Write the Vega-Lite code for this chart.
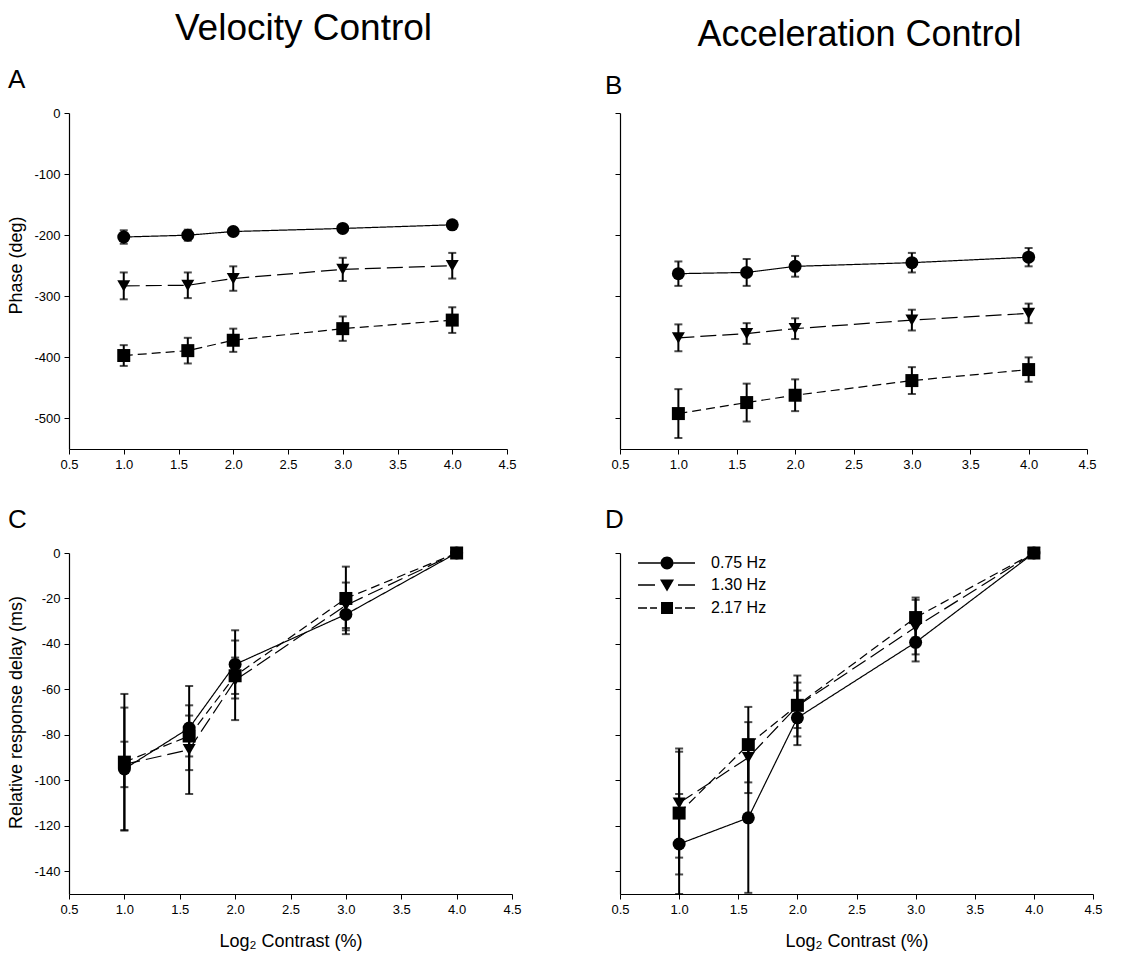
{
  "$schema": "https://vega.github.io/schema/vega-lite/v6.json",
  "padding": {"left": 7, "top": 10, "right": 5, "bottom": 5},
  "background": "white",
  "datasets": {
    "pts": [
      {"panel": "A", "freq": "0.75 Hz", "x": 1.0, "y": -203, "err": 11},
      {"panel": "A", "freq": "0.75 Hz", "x": 1.585, "y": -200, "err": 9},
      {"panel": "A", "freq": "0.75 Hz", "x": 2.0, "y": -194, "err": 6},
      {"panel": "A", "freq": "0.75 Hz", "x": 3.0, "y": -189, "err": 6},
      {"panel": "A", "freq": "0.75 Hz", "x": 4.0, "y": -183, "err": 5},
      {"panel": "A", "freq": "1.30 Hz", "x": 1.0, "y": -283, "err": 22},
      {"panel": "A", "freq": "1.30 Hz", "x": 1.585, "y": -282, "err": 21},
      {"panel": "A", "freq": "1.30 Hz", "x": 2.0, "y": -271, "err": 20},
      {"panel": "A", "freq": "1.30 Hz", "x": 3.0, "y": -256, "err": 19},
      {"panel": "A", "freq": "1.30 Hz", "x": 4.0, "y": -250, "err": 21},
      {"panel": "A", "freq": "2.17 Hz", "x": 1.0, "y": -397, "err": 17},
      {"panel": "A", "freq": "2.17 Hz", "x": 1.585, "y": -389, "err": 21},
      {"panel": "A", "freq": "2.17 Hz", "x": 2.0, "y": -372, "err": 19},
      {"panel": "A", "freq": "2.17 Hz", "x": 3.0, "y": -353, "err": 20},
      {"panel": "A", "freq": "2.17 Hz", "x": 4.0, "y": -339, "err": 21},
      {"panel": "B", "freq": "0.75 Hz", "x": 1.0, "y": -263, "err": 20},
      {"panel": "B", "freq": "0.75 Hz", "x": 1.585, "y": -261, "err": 22},
      {"panel": "B", "freq": "0.75 Hz", "x": 2.0, "y": -251, "err": 17},
      {"panel": "B", "freq": "0.75 Hz", "x": 3.0, "y": -245, "err": 16},
      {"panel": "B", "freq": "0.75 Hz", "x": 4.0, "y": -236, "err": 15},
      {"panel": "B", "freq": "1.30 Hz", "x": 1.0, "y": -368, "err": 22},
      {"panel": "B", "freq": "1.30 Hz", "x": 1.585, "y": -361, "err": 17},
      {"panel": "B", "freq": "1.30 Hz", "x": 2.0, "y": -353, "err": 17},
      {"panel": "B", "freq": "1.30 Hz", "x": 3.0, "y": -339, "err": 17},
      {"panel": "B", "freq": "1.30 Hz", "x": 4.0, "y": -328, "err": 16},
      {"panel": "B", "freq": "2.17 Hz", "x": 1.0, "y": -492, "err": 40},
      {"panel": "B", "freq": "2.17 Hz", "x": 1.585, "y": -474, "err": 31},
      {"panel": "B", "freq": "2.17 Hz", "x": 2.0, "y": -462, "err": 26},
      {"panel": "B", "freq": "2.17 Hz", "x": 3.0, "y": -438, "err": 22},
      {"panel": "B", "freq": "2.17 Hz", "x": 4.0, "y": -420, "err": 20},
      {"panel": "C", "freq": "0.75 Hz", "x": 1.0, "y": -95, "err": 27},
      {"panel": "C", "freq": "0.75 Hz", "x": 1.585, "y": -77, "err": 18.5},
      {"panel": "C", "freq": "0.75 Hz", "x": 2.0, "y": -49, "err": 15},
      {"panel": "C", "freq": "0.75 Hz", "x": 3.0, "y": -27, "err": 8.7},
      {"panel": "C", "freq": "0.75 Hz", "x": 4.0, "y": 0, "err": 0},
      {"panel": "C", "freq": "1.30 Hz", "x": 1.0, "y": -93, "err": 10},
      {"panel": "C", "freq": "1.30 Hz", "x": 1.585, "y": -86.5, "err": 19.5},
      {"panel": "C", "freq": "1.30 Hz", "x": 2.0, "y": -56, "err": 17.5},
      {"panel": "C", "freq": "1.30 Hz", "x": 3.0, "y": -23, "err": 10},
      {"panel": "C", "freq": "1.30 Hz", "x": 4.0, "y": 0, "err": 0},
      {"panel": "C", "freq": "2.17 Hz", "x": 1.0, "y": -92, "err": 30},
      {"panel": "C", "freq": "2.17 Hz", "x": 1.585, "y": -80.5, "err": 9},
      {"panel": "C", "freq": "2.17 Hz", "x": 2.0, "y": -54, "err": 8},
      {"panel": "C", "freq": "2.17 Hz", "x": 3.0, "y": -20, "err": 14},
      {"panel": "C", "freq": "2.17 Hz", "x": 4.0, "y": 0, "err": 0},
      {"panel": "D", "freq": "0.75 Hz", "x": 1.0, "y": -128, "err": 22},
      {"panel": "D", "freq": "0.75 Hz", "x": 1.585, "y": -116.5, "err": 33},
      {"panel": "D", "freq": "0.75 Hz", "x": 2.0, "y": -72.5, "err": 12},
      {"panel": "D", "freq": "0.75 Hz", "x": 3.0, "y": -39.3, "err": 8.4},
      {"panel": "D", "freq": "0.75 Hz", "x": 4.0, "y": 0, "err": 0},
      {"panel": "D", "freq": "1.30 Hz", "x": 1.0, "y": -110, "err": 24},
      {"panel": "D", "freq": "1.30 Hz", "x": 1.585, "y": -90, "err": 15.6},
      {"panel": "D", "freq": "1.30 Hz", "x": 2.0, "y": -67.3, "err": 13.4},
      {"panel": "D", "freq": "1.30 Hz", "x": 3.0, "y": -32.6, "err": 12},
      {"panel": "D", "freq": "1.30 Hz", "x": 4.0, "y": 0, "err": 0},
      {"panel": "D", "freq": "2.17 Hz", "x": 1.0, "y": -114.4, "err": 27},
      {"panel": "D", "freq": "2.17 Hz", "x": 1.585, "y": -84.3, "err": 16.6},
      {"panel": "D", "freq": "2.17 Hz", "x": 2.0, "y": -67, "err": 10},
      {"panel": "D", "freq": "2.17 Hz", "x": 3.0, "y": -28.4, "err": 8.8},
      {"panel": "D", "freq": "2.17 Hz", "x": 4.0, "y": 0, "err": 0}
    ]
  },
  "config": {
    "locale": {"number": {"decimal": ".", "thousands": ",", "grouping": [3], "currency": ["$", ""], "minus": "-"}},
    "view": {"stroke": null},
    "font": "Liberation Sans",
    "title": {"font": "Liberation Sans", "fontWeight": "normal", "color": "black"},
    "axis": {
      "domainColor": "black", "domainWidth": 1.2, "tickColor": "black", "tickSize": 5, "tickWidth": 1,
      "labelFont": "Liberation Sans", "labelFontSize": 13, "labelColor": "black",
      "titleFont": "Liberation Sans", "titleFontSize": 18, "titleFontWeight": "normal", "titleColor": "black",
      "grid": false, "labelPadding": 4
    },
    "legend": {"labelFont": "Liberation Sans", "labelFontSize": 16, "labelColor": "black"}
  },
  "resolve": {
    "scale": {"strokeDash": "independent", "shape": "independent"},
    "legend": {"strokeDash": "independent", "shape": "independent"}
  },
  "spacing": 82,
  "hconcat": [
    {
      "title": {"text": "Velocity Control", "fontSize": 37, "anchor": "middle", "dx": 39, "offset": 19},
      "spacing": 35,
      "resolve": {
        "scale": {"strokeDash": "independent", "shape": "independent"},
        "legend": {"strokeDash": "independent", "shape": "independent"}
      },
      "vconcat": [
        {
          "title": {"text": "A", "fontSize": 26, "anchor": "start", "frame": "bounds", "offset": 14},
          "width": 438, "height": 336,
          "data": {"name": "pts"},
          "transform": [{"filter": "datum.panel === 'A'"}],
          "encoding": {
            "x": {"field": "x", "type": "quantitative", "scale": {"domain": [0.5, 4.5], "nice": false, "zero": false},
                  "axis": {"values": [0.5, 1, 1.5, 2, 2.5, 3, 3.5, 4, 4.5], "format": ".1f", "title": null, "labelFlush": false, "labelOverlap": false}},
            "y": {"field": "y", "type": "quantitative", "scale": {"domain": [-550, 0], "nice": false, "zero": false},
                  "axis": {"values": [0, -100, -200, -300, -400, -500], "title": "Phase (deg)", "titlePadding": 8, "titleY": 152}}
          },
          "layer": [
            {"mark": {"type": "errorbar", "ticks": true, "size": 8, "thickness": 2, "color": "black"},
             "encoding": {"yError": {"field": "err"}}},
            {"mark": {"type": "line", "color": "black", "strokeWidth": 1.2},
             "encoding": {"strokeDash": {"field": "freq", "type": "nominal", "scale": {"domain": ["0.75 Hz", "1.30 Hz", "2.17 Hz"], "range": [[1, 0], [16, 6], [9, 5]]}, "legend": null}}},
            {"mark": {"type": "point", "filled": true, "color": "black", "opacity": 1, "size": 169},
             "encoding": {
               "shape": {"field": "freq", "type": "nominal", "scale": {"domain": ["0.75 Hz", "2.17 Hz", "1.30 Hz"], "range": ["circle", "square", "triangle-down"]}, "legend": null}}}
          ]
        },
        {
          "title": {"text": "C", "fontSize": 26, "anchor": "start", "frame": "bounds", "offset": 14},
          "width": 443, "height": 341,
          "data": {"name": "pts"},
          "transform": [{"filter": "datum.panel === 'C'"}],
          "encoding": {
            "x": {"field": "x", "type": "quantitative", "scale": {"domain": [0.5, 4.5], "nice": false, "zero": false},
                  "axis": {"values": [0.5, 1, 1.5, 2, 2.5, 3, 3.5, 4, 4.5], "format": ".1f", "title": "Log₂ Contrast (%)", "titlePadding": 16, "labelFlush": false, "labelOverlap": false}},
            "y": {"field": "y", "type": "quantitative", "scale": {"domain": [-150, 0], "nice": false, "zero": false},
                  "axis": {"values": [0, -20, -40, -60, -80, -100, -120, -140], "title": "Relative response delay (ms)", "titlePadding": 8, "titleY": 159}}
          },
          "layer": [
            {"mark": {"type": "errorbar", "ticks": true, "size": 8, "thickness": 2, "color": "black", "clip": true},
             "encoding": {"yError": {"field": "err"}}},
            {"mark": {"type": "line", "color": "black", "strokeWidth": 1.2},
             "encoding": {"strokeDash": {"field": "freq", "type": "nominal", "scale": {"domain": ["0.75 Hz", "1.30 Hz", "2.17 Hz"], "range": [[1, 0], [16, 6], [9, 5]]}, "legend": null}}},
            {"mark": {"type": "point", "filled": true, "color": "black", "opacity": 1, "size": 169},
             "encoding": {
               "shape": {"field": "freq", "type": "nominal", "scale": {"domain": ["0.75 Hz", "2.17 Hz", "1.30 Hz"], "range": ["circle", "square", "triangle-down"]}, "legend": null}}}
          ]
        }
      ]
    },
    {
      "title": {"text": "Acceleration Control", "fontSize": 36, "anchor": "middle", "dx": 6, "offset": 19},
      "spacing": 35,
      "resolve": {
        "scale": {"strokeDash": "independent", "shape": "independent"},
        "legend": {"strokeDash": "independent", "shape": "independent"}
      },
      "vconcat": [
        {
          "title": {"text": "B", "fontSize": 26, "anchor": "start", "frame": "bounds", "offset": 14, "dx": -6},
          "width": 467, "height": 336,
          "data": {"name": "pts"},
          "transform": [{"filter": "datum.panel === 'B'"}],
          "encoding": {
            "x": {"field": "x", "type": "quantitative", "scale": {"domain": [0.5, 4.5], "nice": false, "zero": false},
                  "axis": {"values": [0.5, 1, 1.5, 2, 2.5, 3, 3.5, 4, 4.5], "format": ".1f", "title": null, "labelFlush": false, "labelOverlap": false}},
            "y": {"field": "y", "type": "quantitative", "scale": {"domain": [-550, 0], "nice": false, "zero": false},
                  "axis": {"values": [0, -100, -200, -300, -400, -500], "title": null, "labels": false}}
          },
          "layer": [
            {"mark": {"type": "errorbar", "ticks": true, "size": 8, "thickness": 2, "color": "black"},
             "encoding": {"yError": {"field": "err"}}},
            {"mark": {"type": "line", "color": "black", "strokeWidth": 1.2},
             "encoding": {"strokeDash": {"field": "freq", "type": "nominal", "scale": {"domain": ["0.75 Hz", "1.30 Hz", "2.17 Hz"], "range": [[1, 0], [16, 6], [9, 5]]}, "legend": null}}},
            {"mark": {"type": "point", "filled": true, "color": "black", "opacity": 1, "size": 169},
             "encoding": {
               "shape": {"field": "freq", "type": "nominal", "scale": {"domain": ["0.75 Hz", "2.17 Hz", "1.30 Hz"], "range": ["circle", "square", "triangle-down"]}, "legend": null}}}
          ]
        },
        {
          "title": {"text": "D", "fontSize": 26, "anchor": "start", "frame": "bounds", "offset": 14, "dx": -6},
          "width": 473, "height": 341,
          "data": {"name": "pts"},
          "transform": [{"filter": "datum.panel === 'D'"}],
          "resolve": {"scale": {"shape": "independent"}, "legend": {"shape": "independent"}},
          "encoding": {
            "x": {"field": "x", "type": "quantitative", "scale": {"domain": [0.5, 4.5], "nice": false, "zero": false},
                  "axis": {"values": [0.5, 1, 1.5, 2, 2.5, 3, 3.5, 4, 4.5], "format": ".1f", "title": "Log₂ Contrast (%)", "titlePadding": 16, "labelFlush": false, "labelOverlap": false}},
            "y": {"field": "y", "type": "quantitative", "scale": {"domain": [-150, 0], "nice": false, "zero": false},
                  "axis": {"values": [0, -20, -40, -60, -80, -100, -120, -140], "title": null, "labels": false}}
          },
          "layer": [
            {"mark": {"type": "errorbar", "ticks": true, "size": 8, "thickness": 2, "color": "black", "clip": true},
             "encoding": {"yError": {"field": "err"}}},
            {"mark": {"type": "line", "color": "black", "strokeWidth": 1.2},
             "encoding": {"strokeDash": {"field": "freq", "type": "nominal", "scale": {"domain": ["2.17 Hz", "1.30 Hz", "0.75 Hz"], "range": [[9, 5], [16, 6], [1, 0]]}, "legend": null}}},
            {"mark": {"type": "point", "filled": true, "color": "black", "opacity": 1, "size": 169},
             "encoding": {
               "shape": {"field": "freq", "type": "nominal", "scale": {"domain": ["0.75 Hz", "2.17 Hz", "1.30 Hz"], "range": ["circle", "square", "triangle-down"]}, "legend": null}}},
            {"mark": {"type": "point", "filled": true, "fill": "black", "stroke": "black", "strokeWidth": 1.2, "opacity": 0},
             "encoding": {
               "shape": {"field": "freq", "type": "nominal",
                 "scale": {"domain": ["0.75 Hz", "1.30 Hz", "2.17 Hz"],
                   "range": [
                     "M-1.16,-0.11H2.59V0.11H-1.16Z M4.75,-0.11H8.34V0.11H4.75Z M4.75,0A1.08,1.08,0,1,1,2.59,0A1.08,1.08,0,1,1,4.75,0Z",
                     "M-1.16,-0.11H1.67V0.11H-1.16Z M5.5,-0.11H8.34V0.11H5.5Z M2.5,-0.9L4.84,-0.9L3.67,1.1Z",
                     "M-1.16,-0.11H0.34V0.11H-1.16Z M0.84,-0.11H2V0.11H0.84Z M5,-0.11H6.17V0.11H5Z M6.67,-0.11H8.34V0.11H6.67Z M2.67,-1H4.67V1H2.67Z"
                   ]},
                 "legend": {
                   "title": null, "orient": "none", "legendX": 17, "legendY": 2, "padding": 0,
                   "symbolSize": 144, "symbolStrokeWidth": 1.2, "symbolOpacity": 1,
                   "symbolFillColor": "black", "symbolStrokeColor": "black",
                   "labelOffset": 58, "rowPadding": 5, "labelFontSize": 16
                 }}}}
          ]
        }
      ]
    }
  ]
}
